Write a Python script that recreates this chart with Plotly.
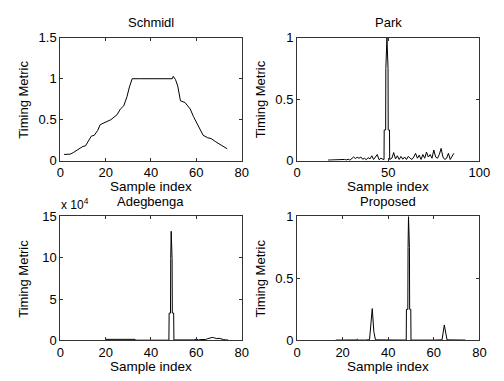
import plotly.graph_objects as go

# ---------------- data ----------------
schmidl_x = [1.7, 4.4, 5.8, 8, 10, 11.1, 12.5, 13.7, 15, 16.5, 17.6, 19.4, 22.3, 25, 26.5, 28,
             29.4, 30.5, 31.7, 35, 40, 45, 49.4, 49.8, 50.8, 51.8, 53, 55, 57.3, 58.7, 60.6,
             61.8, 63, 65, 66.5, 68.6, 70.8, 72.2, 73.6]
schmidl_y = [0.076, 0.08, 0.1, 0.145, 0.175, 0.18, 0.25, 0.3, 0.31, 0.37, 0.44, 0.46, 0.5, 0.56,
             0.63, 0.67, 0.78, 0.9, 1.0, 1.0, 1.0, 1.0, 1.0, 1.03, 0.99, 0.91, 0.73, 0.71, 0.63,
             0.54, 0.44, 0.38, 0.31, 0.28, 0.27, 0.23, 0.19, 0.16, 0.145]

park_x = [17, 18, 19, 20, 21, 22, 23, 24, 25, 26, 27, 28, 29, 30, 31, 32, 33, 34, 35, 36, 37,
          38, 39, 40, 41, 42, 43, 44, 45, 46, 47,
          47.7, 47.8, 48.6, 48.7, 49.3, 49.9, 50.0, 50.7, 50.8,
          52, 53, 54, 55, 56, 57, 58, 59, 60, 61, 62, 63, 64, 65, 66, 67, 68, 69, 70, 71, 72,
          73, 74, 75, 76, 77, 78, 79, 80, 81, 82, 83, 84, 85, 86, 87, 88]
park_y = [0.005, 0.006, 0.005, 0.006, 0.007, 0.006, 0.008, 0.007, 0.009, 0.01, 0.006, 0.012,
          0.004, 0.02, 0.03, 0.018, 0.028, 0.02, 0.03, 0.012, 0.02, 0.008, 0.025, 0.015, 0.04,
          0.01, 0.03, 0.05, 0.008, 0.02, 0.012,
          0.01, 0.25, 0.25, 0.75, 1.0, 0.75, 0.25, 0.25, 0.01,
          0.02, 0.066, 0.015, 0.04, 0.01, 0.035, 0.012, 0.03, 0.01, 0.035, 0.02, 0.01, 0.03,
          0.06, 0.02, 0.045, 0.01, 0.05, 0.02, 0.07, 0.03, 0.05, 0.02, 0.087, 0.03, 0.02, 0.05,
          0.1, 0.03, 0.01, 0.02, 0.06, 0.01, 0.03, 0.06]

adeg_x = [20, 25, 30, 33, 33.2, 40, 45, 47.9, 48.0, 48.6, 48.7, 48.9, 49.3, 49.4, 50.0, 50.1,
          55, 59, 60, 61, 62, 64, 65, 66, 67, 68, 69, 70, 71, 72, 73, 74]
adeg_e4 = [0.12, 0.12, 0.12, 0.12, 0.02, 0.03, 0.02, 0.02, 3.3, 3.3, 9.9, 13.2, 9.9, 3.3, 3.3,
           0.05, 0.05, 0.05, 0.15, 0.05, 0.1, 0.1, 0.2, 0.3, 0.35, 0.3, 0.2, 0.25, 0.15, 0.1,
           0.05, 0.05]

prop_x = [17, 19, 19.7, 20.5, 23, 26, 26.4, 27, 30, 31.8, 33, 33.7, 34.4, 38, 39.7, 41, 45,
          47.9, 48.0, 48.6, 48.7, 48.9, 49.3, 49.4, 49.9, 50.0, 55, 57, 60, 63.6, 64.6, 65.8,
          70, 73.9]
prop_y = [0.002, 0.002, 0.006, 0.002, 0.002, 0.003, 0.01, 0.002, 0.002, 0.005, 0.256, 0.07,
          0.004, 0.002, 0.004, 0.002, 0.002, 0.002, 0.25, 0.25, 0.75, 1.0, 0.75, 0.25, 0.25,
          0.002, 0.002, 0.004, 0.002, 0.004, 0.124, 0.004, 0.002, 0.002]

titles = ["Schmidl", "Park", "Adegbenga", "Proposed"]
xlabel = "Sample index"
ylabel = "Timing Metric"

# ---------------- figure ----------------
W, H = 504, 381
fig = go.Figure()

series = [(schmidl_x, schmidl_y), (park_x, park_y), (adeg_x, adeg_e4), (prop_x, prop_y)]
for i, (xs, ys) in enumerate(series):
    fig.add_trace(go.Scatter(x=xs, y=ys, mode="lines",
                             line=dict(color="black", width=1),
                             xaxis="x" if i == 0 else f"x{i+1}",
                             yaxis="y" if i == 0 else f"y{i+1}",
                             showlegend=False, hoverinfo="skip"))

# pixel boxes: (left, right, top, bottom)
boxes = [(58, 245, 32, 160), (302, 490, 32, 160), (58, 245, 218, 347), (302, 490, 218, 347)]
xranges = [[0, 80], [0, 100], [0, 80], [0, 80]]
xticks = [[0, 20, 40, 60, 80], [0, 50, 100], [0, 20, 40, 60, 80], [0, 20, 40, 60, 80]]
yranges = [[0, 1.5], [0, 1], [0, 15], [0, 1]]
yticks = [[0, 0.5, 1, 1.5], [0, 0.5, 1], [0, 5, 10, 15], [0, 0.5, 1]]
ytext = [["0", "0.5", "1", "1.5"], ["0", "0.5", "1"], ["0", "5", "10", "15"], ["0", "0.5", "1"]]

font = "Liberation Sans, Arial, sans-serif"
axcommon = dict(showgrid=False, zeroline=False, showline=True, linecolor="#333333",
                linewidth=1, mirror="ticks", ticks="inside", ticklen=3, tickcolor="#333333",
                tickfont=dict(family=font, size=13, color="black"))

layout = dict(width=W, height=H, margin=dict(l=0, r=0, t=0, b=0),
              paper_bgcolor="white", plot_bgcolor="white", showlegend=False)
annotations = []
for i, (l, r, t, b) in enumerate(boxes):
    sx = "" if i == 0 else str(i + 1)
    layout[f"xaxis{sx}"] = dict(domain=[l / W, r / W], anchor=f"y{sx}", range=xranges[i],
                                tickvals=xticks[i], **axcommon)
    layout[f"yaxis{sx}"] = dict(domain=[(H - b) / H, (H - t) / H], anchor=f"x{sx}",
                                range=yranges[i], tickvals=yticks[i], ticktext=ytext[i],
                                **axcommon)
    cx = (l + r) / 2
    annotations.append(dict(text=titles[i], x=cx / W, y=1 - (t - 16) / H, xref="paper",
                            yref="paper", xanchor="center", yanchor="middle", showarrow=False,
                            font=dict(family=font, size=13, color="black")))
    annotations.append(dict(text=xlabel, x=cx / W, y=1 - (b + 27) / H, xref="paper",
                            yref="paper", xanchor="center", yanchor="middle", showarrow=False,
                            font=dict(family=font, size=13.5, color="black")))
    annotations.append(dict(text=ylabel, x=(l - 38) / W, y=1 - (t + b) / 2 / H, xref="paper",
                            yref="paper", xanchor="center", yanchor="middle", showarrow=False,
                            textangle=-90, font=dict(family=font, size=13, color="black")))

annotations.append(dict(text="x 10<sup>4</sup>", x=57 / W, y=1 - 205 / H, xref="paper",
                        yref="paper", xanchor="left", yanchor="middle", showarrow=False,
                        font=dict(family=font, size=12, color="black")))
layout["annotations"] = annotations
fig.update_layout(**layout)
fig.write_html("out.html")
